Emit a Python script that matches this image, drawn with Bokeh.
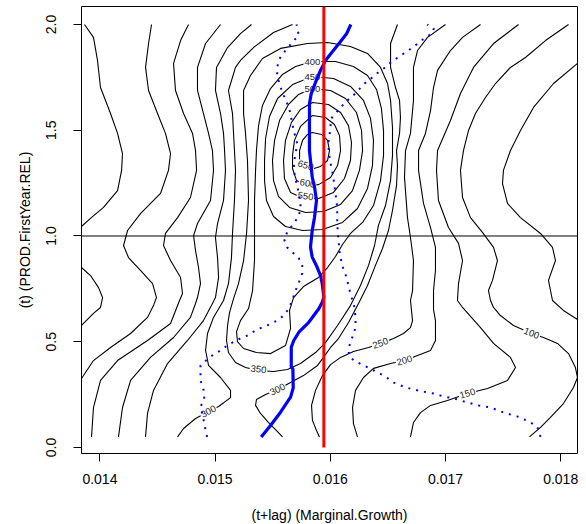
from bokeh.plotting import figure
from bokeh.models import Range1d, FixedTicker, NumeralTickFormatter, Span
from bokeh.embed import file_html
from bokeh.resources import INLINE
from bokeh.core.properties import value
import math

FONT = "Liberation Sans"

# ---------------- axes ----------------
x_ticks = [0.014, 0.015, 0.016, 0.017, 0.018]
y_ticks = [0.0, 0.5, 1.0, 1.5, 2.0]
x_title = "(t+lag) (Marginal.Growth)"
y_title = "(t) (PROD.FirstYear.REL)"
x_lim = (0.013840, 0.018146)
y_lim = (-0.0284, 2.0851)

# ---------------- reference lines ----------------
h_line_y = 1.0
red_x = 0.015944
red_y_start = 0.0

# ---------------- contour lines (level 50 .. 650) ----------------
c50a_x = [0.013866, 0.013944, 0.013979, 0.014005, 0.014092, 0.014153, 0.014196, 0.014188, 0.014153, 0.014031, 0.013918, 0.013840]
c50a_y = [2.0, 1.939, 1.830, 1.702, 1.579, 1.485, 1.390, 1.310, 1.215, 1.135, 1.083, 1.045]
c50b_x = [0.013840, 0.013918, 0.013988, 0.014023, 0.014005, 0.013944, 0.013840]
c50b_y = [0.851, 0.813, 0.756, 0.709, 0.662, 0.634, 0.577]
c50c_x = [0.018146, 0.017938, 0.017764, 0.017651, 0.017564, 0.017503, 0.017495, 0.017538, 0.017651, 0.017825, 0.017929, 0.017955, 0.017894, 0.017929, 0.018024, 0.018146]
c50c_y = [1.816, 1.721, 1.608, 1.499, 1.404, 1.310, 1.248, 1.154, 1.087, 1.012, 0.946, 0.884, 0.790, 0.695, 0.648, 0.605]

c100a_x = [0.014448, 0.014422, 0.014396, 0.014422, 0.014500, 0.014569, 0.014613, 0.014595, 0.014526, 0.014352, 0.014240, 0.014205, 0.014248, 0.014352, 0.014457, 0.014491, 0.014465, 0.014413, 0.014266, 0.014092, 0.013944, 0.013840]
c100a_y = [2.0, 1.910, 1.797, 1.688, 1.579, 1.485, 1.390, 1.310, 1.201, 1.106, 1.026, 0.955, 0.898, 0.837, 0.775, 0.709, 0.671, 0.615, 0.539, 0.473, 0.411, 0.326]
c100b_x = [0.018068, 0.017868, 0.017694, 0.017564, 0.017434, 0.017347, 0.017260, 0.017200, 0.017156, 0.017130, 0.017148, 0.017217, 0.017321, 0.017417, 0.017451, 0.017408, 0.017373, 0.017391, 0.017417, 0.017477, 0.017590, 0.017747, 0.017851, 0.017972, 0.018068, 0.018128, 0.018146, 0.018111, 0.018024, 0.017911, 0.017825, 0.017729]
c100b_y = [2.0, 1.924, 1.844, 1.797, 1.721, 1.655, 1.579, 1.499, 1.404, 1.310, 1.182, 1.087, 1.017, 0.946, 0.884, 0.790, 0.742, 0.695, 0.662, 0.624, 0.577, 0.539, 0.520, 0.492, 0.444, 0.378, 0.331, 0.284, 0.208, 0.142, 0.095, 0.05]

c150a_x = [0.014769, 0.014700, 0.014639, 0.014656, 0.014726, 0.014804, 0.014830, 0.014839, 0.014786, 0.014674, 0.014569, 0.014552, 0.014613, 0.014700, 0.014717, 0.014691, 0.014613, 0.014413, 0.014153, 0.014005, 0.013944, 0.013927]
c150a_y = [2.0, 1.924, 1.816, 1.688, 1.579, 1.485, 1.404, 1.310, 1.182, 1.087, 1.012, 0.955, 0.884, 0.804, 0.728, 0.695, 0.586, 0.506, 0.411, 0.317, 0.189, 0.05]
c150b_x = [0.017634, 0.017417, 0.017243, 0.017130, 0.017043, 0.016957, 0.016931, 0.016922, 0.016939, 0.017026, 0.017113, 0.017148, 0.017113, 0.017104, 0.017148, 0.017304, 0.017417, 0.017564, 0.017608, 0.017538, 0.017365, 0.017191, 0.017017, 0.016870, 0.016783, 0.016722, 0.016696]
c150b_y = [2.0, 1.910, 1.797, 1.674, 1.546, 1.437, 1.404, 1.310, 1.168, 1.040, 0.965, 0.884, 0.775, 0.695, 0.662, 0.567, 0.492, 0.426, 0.378, 0.317, 0.279, 0.255, 0.222, 0.199, 0.165, 0.118, 0.05]

c200a_x = [0.015047, 0.014917, 0.014847, 0.014847, 0.014899, 0.014943, 0.014977, 0.014986, 0.014960, 0.014847, 0.014813, 0.014830, 0.014856, 0.014873, 0.014847, 0.014830, 0.014786, 0.014639, 0.014439, 0.014266, 0.014196, 0.014161]
c200a_y = [2.0, 1.910, 1.797, 1.688, 1.579, 1.485, 1.404, 1.310, 1.168, 1.059, 1.002, 0.931, 0.851, 0.775, 0.709, 0.681, 0.615, 0.520, 0.426, 0.317, 0.189, 0.05]
c200b_x = [0.017304, 0.017148, 0.017043, 0.016931, 0.016896, 0.016870, 0.016826, 0.016766, 0.016766, 0.016809, 0.016870, 0.016913, 0.016913, 0.016896, 0.016896, 0.016913, 0.016913, 0.016870, 0.016757, 0.016644, 0.016523, 0.016375, 0.016288, 0.016219, 0.016193, 0.016201, 0.016236]
c200b_y = [2.0, 1.939, 1.877, 1.783, 1.702, 1.593, 1.485, 1.404, 1.310, 1.154, 1.040, 0.946, 0.837, 0.742, 0.652, 0.600, 0.506, 0.459, 0.435, 0.411, 0.397, 0.374, 0.331, 0.270, 0.189, 0.113, 0.05]

c250a_x = [0.015316, 0.015220, 0.015108, 0.015012, 0.015003, 0.015047, 0.015073, 0.015082, 0.015090, 0.015073, 0.015021, 0.015003, 0.015021, 0.015030, 0.015003, 0.014977, 0.014899, 0.014760, 0.014587, 0.014465, 0.014413, 0.014396]
c250a_y = [2.0, 1.957, 1.891, 1.797, 1.688, 1.579, 1.485, 1.404, 1.310, 1.168, 1.059, 0.993, 0.898, 0.804, 0.709, 0.681, 0.600, 0.506, 0.397, 0.270, 0.161, 0.05]
c250b_x = [0.017000, 0.016844, 0.016757, 0.016722, 0.016722, 0.016696, 0.016653, 0.016644, 0.016670, 0.016696, 0.016722, 0.016714, 0.016696, 0.016714, 0.016696, 0.016635, 0.016549, 0.016436, 0.016332, 0.016201, 0.016089, 0.016002, 0.015932, 0.015872, 0.015837, 0.015845, 0.015880, 0.015906]
c250b_y = [2.0, 1.939, 1.877, 1.797, 1.641, 1.485, 1.404, 1.277, 1.087, 0.993, 0.884, 0.742, 0.695, 0.600, 0.567, 0.539, 0.515, 0.492, 0.473, 0.454, 0.426, 0.392, 0.340, 0.270, 0.199, 0.128, 0.080, 0.05]

c300a_x = [0.015672, 0.015507, 0.015333, 0.015220, 0.015177, 0.015116, 0.015151, 0.015160, 0.015168, 0.015177, 0.015168, 0.015151, 0.015142, 0.015116, 0.015073, 0.014986, 0.014934, 0.014917, 0.014943, 0.015047, 0.015134, 0.015134, 0.015030, 0.014943, 0.014830, 0.014726, 0.014674]
c300a_y = [2.0, 1.962, 1.891, 1.830, 1.797, 1.688, 1.579, 1.485, 1.404, 1.310, 1.168, 1.012, 0.898, 0.775, 0.695, 0.615, 0.539, 0.459, 0.388, 0.331, 0.270, 0.236, 0.194, 0.170, 0.137, 0.090, 0.05]
c300b_x = [0.016583, 0.016523, 0.016523, 0.016566, 0.016601, 0.016609, 0.016601, 0.016575, 0.016583, 0.016575, 0.016540, 0.016505, 0.016453, 0.016392, 0.016323, 0.016245, 0.016158, 0.016071, 0.016002, 0.015941, 0.015889, 0.015767, 0.015655, 0.015542, 0.015438, 0.015359, 0.015351, 0.015394, 0.015464, 0.015533, 0.015585]
c300b_y = [2.0, 1.910, 1.797, 1.702, 1.641, 1.560, 1.485, 1.404, 1.333, 1.239, 1.121, 1.026, 0.941, 0.861, 0.766, 0.681, 0.591, 0.515, 0.473, 0.426, 0.388, 0.340, 0.307, 0.274, 0.251, 0.227, 0.199, 0.161, 0.118, 0.080, 0.05]

c350_x = [0.015802, 0.015976, 0.016175, 0.016323, 0.016436, 0.016497, 0.016523, 0.016540, 0.016540, 0.016523, 0.016479, 0.016418, 0.016384, 0.016332, 0.016262, 0.016175, 0.016063, 0.015958, 0.015872, 0.015741, 0.015628, 0.015507, 0.015377, 0.015264, 0.015177, 0.015116, 0.015099, 0.015108, 0.015125, 0.015160, 0.015203, 0.015247, 0.015273, 0.015290, 0.015281, 0.015264, 0.015247, 0.015247, 0.015307, 0.015411, 0.015568, 0.015802]
c350_y = [1.910, 1.915, 1.896, 1.863, 1.797, 1.721, 1.641, 1.513, 1.381, 1.262, 1.144, 1.050, 0.955, 0.861, 0.766, 0.671, 0.577, 0.496, 0.449, 0.397, 0.369, 0.359, 0.364, 0.378, 0.402, 0.449, 0.506, 0.577, 0.638, 0.704, 0.775, 0.884, 1.012, 1.168, 1.357, 1.485, 1.579, 1.688, 1.759, 1.839, 1.887, 1.910]

c400_x = [0.015845, 0.016045, 0.016201, 0.016323, 0.016401, 0.016444, 0.016462, 0.016462, 0.016436, 0.016375, 0.016280, 0.016175, 0.016106, 0.016045, 0.015976, 0.015898, 0.015767, 0.015681, 0.015646, 0.015655, 0.015611, 0.015481, 0.015359, 0.015247, 0.015194, 0.015186, 0.015220, 0.015290, 0.015325, 0.015342, 0.015342, 0.015342, 0.015351, 0.015359, 0.015377, 0.015411, 0.015481, 0.015585, 0.015698, 0.015845]
c400_y = [1.825, 1.825, 1.801, 1.759, 1.693, 1.603, 1.499, 1.381, 1.262, 1.144, 1.064, 1.012, 0.960, 0.903, 0.851, 0.804, 0.761, 0.709, 0.648, 0.563, 0.482, 0.444, 0.449, 0.468, 0.501, 0.548, 0.600, 0.657, 0.742, 0.884, 1.026, 1.168, 1.310, 1.404, 1.522, 1.617, 1.697, 1.764, 1.801, 1.825]

c450_x = [0.015845, 0.016028, 0.016175, 0.016288, 0.016349, 0.016375, 0.016366, 0.016323, 0.016236, 0.016106, 0.015932, 0.015759, 0.015611, 0.015507, 0.015446, 0.015429, 0.015429, 0.015438, 0.015472, 0.015542, 0.015672, 0.015845]
c450_y = [1.754, 1.745, 1.707, 1.641, 1.556, 1.452, 1.333, 1.225, 1.130, 1.064, 1.031, 1.026, 1.045, 1.092, 1.168, 1.262, 1.357, 1.461, 1.565, 1.650, 1.716, 1.754]

c500_x = [0.015845, 0.016002, 0.016132, 0.016227, 0.016271, 0.016280, 0.016253, 0.016193, 0.016089, 0.015941, 0.015785, 0.015646, 0.015550, 0.015507, 0.015498, 0.015516, 0.015559, 0.015637, 0.015724, 0.015845]
c500_y = [1.697, 1.688, 1.650, 1.584, 1.499, 1.404, 1.310, 1.215, 1.149, 1.116, 1.111, 1.135, 1.187, 1.262, 1.357, 1.452, 1.546, 1.622, 1.669, 1.697]

c550_x = [0.015845, 0.015984, 0.016089, 0.016158, 0.016184, 0.016175, 0.016123, 0.016028, 0.015898, 0.015767, 0.015655, 0.015602, 0.015594, 0.015611, 0.015663, 0.015741, 0.015845]
c550_y = [1.631, 1.622, 1.584, 1.522, 1.442, 1.357, 1.272, 1.206, 1.177, 1.177, 1.206, 1.272, 1.357, 1.452, 1.537, 1.598, 1.631]

c600_x = [0.015845, 0.015958, 0.016036, 0.016080, 0.016089, 0.016063, 0.016002, 0.015898, 0.015793, 0.015707, 0.015672, 0.015672, 0.015689, 0.015741, 0.015845]
c600_y = [1.570, 1.560, 1.527, 1.475, 1.404, 1.333, 1.277, 1.243, 1.239, 1.262, 1.319, 1.381, 1.452, 1.518, 1.570]

c650_x = [0.015845, 0.015924, 0.015976, 0.015993, 0.015976, 0.015915, 0.015828, 0.015759, 0.015733, 0.015733, 0.015759, 0.015802, 0.015845]
c650_y = [1.489, 1.480, 1.452, 1.404, 1.357, 1.329, 1.314, 1.324, 1.357, 1.404, 1.452, 1.480, 1.489]

# contour labels
label_text = ["100", "150", "200", "250", "300", "350", "300", "400", "450", "500", "550", "600", "650"]
label_x = [0.017747, 0.017191, 0.016644, 0.016436, 0.015542, 0.015377, 0.014943, 0.015845, 0.015845, 0.015845, 0.015785, 0.015802, 0.015785]
label_y = [0.539, 0.255, 0.411, 0.492, 0.274, 0.369, 0.170, 1.825, 1.754, 1.697, 1.187, 1.248, 1.333]
label_angle_deg = [-22, 17, 16, 20, 26, -7, 28, 0, 0, 0, -8, -10, -18]

# ---------------- blue median curve ----------------
median_x = [0.015400, 0.015481, 0.015568, 0.015655, 0.015678, 0.015675, 0.015661, 0.015661, 0.015683, 0.015727, 0.015813, 0.015900, 0.015930, 0.015944, 0.015930, 0.015915, 0.015886, 0.015843, 0.015828, 0.015843, 0.015863, 0.015880, 0.015863, 0.015843, 0.015819, 0.015819, 0.015834, 0.015872, 0.015915, 0.015958, 0.016002, 0.016074, 0.016141, 0.016178]
median_y = [0.05, 0.104, 0.167, 0.238, 0.282, 0.372, 0.380, 0.474, 0.506, 0.545, 0.592, 0.656, 0.687, 0.711, 0.774, 0.813, 0.852, 0.900, 0.947, 1.026, 1.089, 1.168, 1.231, 1.278, 1.404, 1.625, 1.672, 1.727, 1.783, 1.830, 1.861, 1.909, 1.956, 2.0]

# ---------------- blue dotted bounds ----------------
lower_x = [0.014931, 0.014917, 0.014908, 0.014888, 0.014873, 0.014902, 0.014908, 0.014897, 0.014873, 0.014873, 0.014911, 0.014951, 0.014989, 0.015032, 0.015082, 0.015134, 0.015186, 0.015235, 0.015284, 0.015365, 0.015452, 0.015539, 0.015596, 0.015640, 0.015669, 0.015698, 0.015727, 0.015756, 0.015756, 0.015727, 0.015683, 0.015626, 0.015596, 0.015626, 0.015669, 0.015713, 0.015741, 0.015741, 0.015727, 0.015707, 0.015689, 0.015683, 0.015698, 0.015713, 0.015689, 0.015669, 0.015655, 0.015626, 0.015596, 0.015562, 0.015539, 0.015539, 0.015553, 0.015574, 0.015611, 0.015648, 0.015683, 0.015727, 0.015713, 0.015707]
lower_y = [0.05, 0.080, 0.109, 0.161, 0.194, 0.222, 0.251, 0.279, 0.317, 0.388, 0.407, 0.426, 0.440, 0.454, 0.473, 0.492, 0.506, 0.520, 0.530, 0.558, 0.577, 0.600, 0.624, 0.657, 0.695, 0.742, 0.780, 0.823, 0.861, 0.894, 0.917, 0.946, 0.988, 1.017, 1.050, 1.083, 1.121, 1.154, 1.201, 1.248, 1.295, 1.343, 1.390, 1.437, 1.485, 1.532, 1.579, 1.626, 1.664, 1.712, 1.759, 1.797, 1.830, 1.853, 1.877, 1.901, 1.924, 1.948, 1.981, 2.0]

upper_x = [0.017825, 0.017796, 0.017723, 0.017622, 0.017506, 0.017391, 0.017289, 0.017188, 0.017072, 0.016985, 0.016898, 0.016798, 0.016725, 0.016653, 0.016551, 0.016464, 0.016378, 0.016291, 0.016204, 0.016161, 0.016161, 0.016190, 0.016219, 0.016219, 0.016204, 0.016184, 0.016161, 0.016141, 0.016103, 0.016082, 0.016074, 0.016065, 0.016060, 0.016060, 0.016045, 0.016030, 0.016016, 0.015996, 0.015987, 0.015982, 0.015996, 0.016008, 0.016045, 0.016089, 0.016132, 0.016175, 0.016219, 0.016256, 0.016297, 0.016343, 0.016384, 0.016436, 0.016479, 0.016523, 0.016572, 0.016624, 0.016668, 0.016711, 0.016760, 0.016803, 0.016855, 0.016890, 0.016898, 0.016841]
upper_y = [0.05, 0.099, 0.123, 0.147, 0.165, 0.189, 0.199, 0.213, 0.232, 0.241, 0.255, 0.265, 0.274, 0.284, 0.307, 0.340, 0.364, 0.388, 0.411, 0.435, 0.473, 0.520, 0.567, 0.615, 0.681, 0.709, 0.756, 0.804, 0.861, 0.917, 0.965, 1.012, 1.073, 1.135, 1.201, 1.262, 1.310, 1.357, 1.404, 1.437, 1.489, 1.556, 1.579, 1.608, 1.631, 1.655, 1.674, 1.697, 1.721, 1.740, 1.759, 1.783, 1.797, 1.820, 1.839, 1.858, 1.872, 1.891, 1.910, 1.929, 1.948, 1.962, 1.981, 2.0]

contours_x = [c50a_x, c50b_x, c50c_x, c100a_x, c100b_x, c150a_x, c150b_x, c200a_x, c200b_x,
              c250a_x, c250b_x, c300a_x, c300b_x, c350_x, c400_x, c450_x, c500_x, c550_x, c600_x, c650_x]
contours_y = [c50a_y, c50b_y, c50c_y, c100a_y, c100b_y, c150a_y, c150b_y, c200a_y, c200b_y,
              c250a_y, c250b_y, c300a_y, c300b_y, c350_y, c400_y, c450_y, c500_y, c550_y, c600_y, c650_y]

p = figure(frame_width=496, frame_height=447, x_range=Range1d(*x_lim), y_range=Range1d(*y_lim),
           output_backend="svg", toolbar_location=None,
           min_border_left=81, min_border_right=9, min_border_top=6, min_border_bottom=71)
p.background_fill_color = "white"
p.border_fill_color = "white"
p.grid.visible = False
p.outline_line_color = "black"
p.outline_line_width = 1

for ax in (p.xaxis[0], p.yaxis[0]):
    ax.axis_line_color = None
    ax.major_tick_out = 8
    ax.major_tick_in = 0
    ax.minor_tick_out = 0
    ax.minor_tick_in = 0
    ax.major_tick_line_color = "black"
    ax.major_label_text_font = FONT
    ax.major_label_text_font_size = "14px"
    ax.major_label_text_color = "black"
    ax.axis_label_text_font = FONT
    ax.axis_label_text_font_size = "14px"
    ax.axis_label_text_font_style = "normal"
    ax.axis_label_text_color = "black"

p.xaxis.ticker = FixedTicker(ticks=x_ticks)
p.yaxis.ticker = FixedTicker(ticks=y_ticks)
p.xaxis.formatter = NumeralTickFormatter(format="0.000")
p.yaxis.formatter = NumeralTickFormatter(format="0.0")
p.yaxis.major_label_orientation = "vertical"
p.xaxis.axis_label = x_title
p.yaxis.axis_label = y_title
p.xaxis.major_label_standoff = 12
p.yaxis.major_label_standoff = 17
p.xaxis.axis_label_standoff = 20
p.yaxis.axis_label_standoff = 11

# contours
p.multi_line(xs=contours_x, ys=contours_y, line_color="black", line_width=1.1, line_join="round")

# contour labels
p.text(x=label_x, y=label_y, text=label_text, angle=[math.radians(a) for a in label_angle_deg],
       text_font=value(FONT), text_font_size="9.5px", text_color="#222222",
       text_align="center", text_baseline="middle",
       background_fill_color="white", padding=1)

# horizontal reference
p.add_layout(Span(location=h_line_y, dimension="width", line_color="black", line_width=1))

# bounds and median
p.line(lower_x, lower_y, line_color="#0000FF", line_width=2, line_dash="2 6")
p.line(upper_x, upper_y, line_color="#0000FF", line_width=2, line_dash="2 6")
p.line(median_x, median_y, line_color="#0000FF", line_width=3.2, line_join="round")

# red vertical
p.segment(x0=[red_x], y0=[red_y_start], x1=[red_x], y1=[y_lim[1]], line_color="#FF0000", line_width=3)

open("out.html", "w").write(file_html(p, INLINE))
